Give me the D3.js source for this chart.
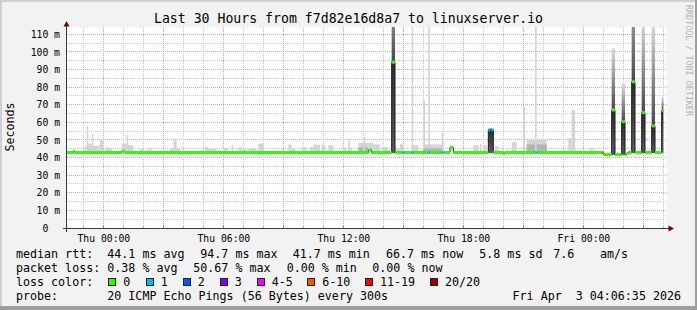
<!DOCTYPE html>
<html>
<head>
<meta charset="utf-8">
<script src="https://cdn.jsdelivr.net/npm/d3@7"></script>
<style>
  html, body { margin: 0; padding: 0; background: #f2f2f2; }
  svg { display: block; }
  text { font-family: "DejaVu Sans Mono", monospace; fill: #000; white-space: pre; }
</style>
</head>
<body>
<svg id="chart"></svg>
<script>
// ---------- data ----------
const title = "Last 30 Hours from f7d82e16d8a7 to linuxserver.io"
const yTitle = "Seconds"
const watermark = "RRDTOOL / TOBI OETIKER"
const timeStart = "04-01 22:10"
const timeEnd = "04-03 04:10"
const dataEnd = "04-03 04:00"
const yMax = 113.6
const yTicks = [0, 10, 20, 30, 40, 50, 60, 70, 80, 90, 100, 110]

const lossLabels = ["0", "1", "2", "3", "4-5", "6-10", "11-19", "20/20"]
const lossColors = ["#26ff00", "#00b8ff", "#0059ff", "#7e00ff", "#ff00ff", "#ff5500", "#ff0000", "#a10000"]

// median rtt (ms), valid from the given time until the next entry: [time, ms, loss bucket]
const medianSteps = [
  ["04-01 22:10", 42.9, 0], ["04-01 22:30", 43.6, 0], ["04-01 22:35", 42.9, 0],
  ["04-02 00:55", 43.6, 0], ["04-02 01:05", 42.9, 0],
  ["04-02 13:15", 44.3, 0], ["04-02 13:25", 42.9, 0],
  ["04-02 14:25", 94.2, 0], ["04-02 14:35", 42.9, 0],
  ["04-02 15:00", 42.9, 1], ["04-02 15:05", 42.9, 0],
  ["04-02 15:25", 42.9, 1], ["04-02 15:30", 42.9, 0],
  ["04-02 16:15", 42.9, 1], ["04-02 16:20", 42.9, 0],
  ["04-02 16:55", 42.9, 1], ["04-02 17:00", 42.9, 0],
  ["04-02 17:20", 45.8, 0], ["04-02 17:30", 42.9, 0],
  ["04-02 19:15", 55.7, 1], ["04-02 19:20", 55.7, 2], ["04-02 19:25", 55.7, 1], ["04-02 19:30", 42.9, 0],
  ["04-02 20:00", 42.3, 0], ["04-02 20:05", 42.9, 0],
  ["04-02 21:35", 42.9, 1], ["04-02 21:40", 42.9, 0],
  ["04-03 00:55", 42.9, 5], ["04-03 01:00", 41.7, 0],
  ["04-03 01:25", 67.0, 0], ["04-03 01:35", 41.7, 0],
  ["04-03 01:55", 60.4, 0], ["04-03 02:05", 41.7, 0], ["04-03 02:10", 42.4, 0], ["04-03 02:15", 42.9, 0],
  ["04-03 02:25", 83.0, 0], ["04-03 02:35", 42.9, 0],
  ["04-03 02:55", 65.5, 0], ["04-03 03:05", 42.9, 0],
  ["04-03 03:25", 58.0, 0], ["04-03 03:35", 42.9, 0],
  ["04-03 03:55", 66.7, 0]
]

// sparse ping smoke: [start, 5-min steps, highest ping ms, dense core top ms or null]
const lightSmoke = [
  ["04-01 23:05", 4, 46.6, null], ["04-01 23:10", 1, 58.0, null], ["04-01 23:15", 2, 48.0, null],
  ["04-01 23:25", 1, 53.4, null], ["04-01 23:25", 4, 46.6, null], ["04-01 23:45", 1, 47.0, null],
  ["04-01 23:50", 2, 49.8, null], ["04-02 00:05", 3, 45.7, null], ["04-02 00:20", 1, 45.3, null],
  ["04-02 00:55", 3, 47.9, null], ["04-02 01:10", 1, 53.0, null], ["04-02 01:10", 4, 47.0, null],
  ["04-02 01:50", 2, 45.0, null], ["04-02 02:15", 2, 45.0, null], ["04-02 03:20", 6, 45.0, null],
  ["04-02 03:30", 2, 49.8, null], ["04-02 05:05", 2, 46.0, null], ["04-02 05:10", 6, 45.2, null],
  ["04-02 06:00", 3, 45.5, null], ["04-02 06:25", 1, 47.0, null], ["04-02 06:45", 2, 46.0, null],
  ["04-02 06:55", 3, 45.0, null], ["04-02 07:15", 5, 45.2, null], ["04-02 07:45", 3, 47.9, null],
  ["04-02 08:55", 1, 45.0, null], ["04-02 09:15", 2, 47.4, null], ["04-02 09:25", 2, 45.0, null],
  ["04-02 09:55", 3, 46.0, null], ["04-02 10:20", 2, 46.0, null], ["04-02 10:30", 1, 47.4, null],
  ["04-02 10:35", 3, 47.4, null], ["04-02 10:55", 2, 47.4, null], ["04-02 11:15", 3, 47.0, null],
  ["04-02 12:00", 2, 45.7, null], ["04-02 12:15", 1, 49.7, null], ["04-02 12:20", 1, 45.7, null],
  ["04-02 12:45", 6, 48.5, 45.8], ["04-02 13:00", 1, 51.9, null], ["04-02 13:15", 3, 48.5, null],
  ["04-02 13:30", 4, 47.5, null], ["04-02 13:55", 4, 46.0, null], ["04-02 14:35", 3, 45.6, null],
  ["04-02 14:50", 2, 47.6, null], ["04-02 15:25", 1, 150, null], ["04-02 15:25", 4, 47.0, null],
  ["04-02 16:00", 1, 72.7, null], ["04-02 16:15", 1, 150, null], ["04-02 16:00", 12, 47.5, 45.2],
  ["04-02 16:55", 1, 54.0, null], ["04-02 18:30", 3, 47.0, null], ["04-02 18:50", 1, 47.9, null],
  ["04-02 19:00", 2, 47.0, null], ["04-02 19:35", 2, 46.5, null], ["04-02 20:25", 3, 48.8, null],
  ["04-02 21:00", 1, 69.0, null], ["04-02 21:10", 12, 50.0, 47.5], ["04-02 21:35", 1, 150, null],
  ["04-02 23:15", 2, 51.0, null], ["04-02 23:25", 2, 67.0, null], ["04-03 00:20", 2, 45.5, null]
]

// dense smoke around high-latency steps: [start, 5-min steps, lowest ping ms, highest ping ms]
const denseSmoke = [
  ["04-02 14:25", 2, 42.5, 150], ["04-02 19:15", 3, 42.5, 56.5],
  ["04-03 01:25", 2, 41.5, 102], ["04-03 01:55", 2, 41.5, 82],
  ["04-03 02:25", 2, 42.5, 150], ["04-03 02:55", 2, 42.5, 118],
  ["04-03 03:25", 2, 42.5, 116], ["04-03 03:55", 1, 42.5, 74.6]
]

const rttLabel = "median rtt:"
const rttStats = ["44.1 ms avg", "94.7 ms max", "41.7 ms min", "66.7 ms now", "5.8 ms sd", "7.6", "am/s"]
const lossLabel = "packet loss:"
const lossStats = ["0.38 % avg", "50.67 % max", "0.00 % min", "0.00 % now"]
const colorLabel = "loss color:"
const probeLabel = "probe:"
const probeText = "20 ICMP Echo Pings (56 Bytes) every 300s"
const stamp = "Fri Apr  3 04:06:35 2026"

// ---------- layout ----------
const W = 697, H = 310
const plot = { left: 67, right: 667, top: 27, bottom: 228 }
const rttX = [107.3, 200.3, 292.7, 386, 479.3, 553.3, 600]
const lossX = [107.3, 193.3, 286.7, 372.3]
const boxX = [108.3, 145.7, 182.7, 219.7, 256.7, 307.3, 365, 430]
const rowY = [258, 272, 286, 300]

const parse = s => d3.utcParse("%Y-%m-%d %H:%M")("2026-" + s)
const stepMs = 5 * 60 * 1000

const x = d3.scaleUtc().domain([parse(timeStart), parse(timeEnd)]).range([66.67, 666.67])
const y = d3.scaleLinear().domain([0, yMax]).range([228, 28])
const crisp = v => Math.floor(v) + 0.5

const svg = d3.select("#chart").attr("width", W).attr("height", H)

// background and frame
svg.append("rect").attr("width", W).attr("height", H).attr("fill", "#f2f2f2")
svg.append("rect").attr("width", W).attr("height", 2).attr("fill", "#cfcfcf")
svg.append("rect").attr("width", 2).attr("height", H).attr("fill", "#cfcfcf")
svg.append("rect").attr("x", W - 2).attr("width", 2).attr("height", H).attr("fill", "#9e9e9e")
svg.append("rect").attr("y", H - 4).attr("width", W).attr("height", 4).attr("fill", "#9e9e9e")

svg.append("rect")
  .attr("x", plot.left).attr("y", plot.top)
  .attr("width", plot.right - plot.left).attr("height", plot.bottom - plot.top)
  .attr("fill", "#fff")

const defs = svg.append("defs")
defs.append("clipPath").attr("id", "clip").append("rect")
  .attr("x", plot.left).attr("y", plot.top)
  .attr("width", plot.right - plot.left).attr("height", plot.bottom - plot.top)

const upperGrad = defs.append("linearGradient").attr("id", "upper").attr("x1", 0).attr("x2", 0).attr("y1", 0).attr("y2", 1)
upperGrad.append("stop").attr("offset", 0).attr("stop-color", "#dcdcdc")
upperGrad.append("stop").attr("offset", 1).attr("stop-color", "#484848")
const lowerGrad = defs.append("linearGradient").attr("id", "lower").attr("x1", 0).attr("x2", 0).attr("y1", 0).attr("y2", 1)
lowerGrad.append("stop").attr("offset", 0).attr("stop-color", "#2c2c2c")
lowerGrad.append("stop").attr("offset", 1).attr("stop-color", "#5c5c5c")

// grid
const grid = svg.append("g").attr("stroke-dasharray", "1,1").attr("stroke-width", 1)
const minorGray = "#c6c6c6", majorRed = "#e89a9a"
d3.range(5, yMax, 5).forEach(v => {
  grid.append("line")
    .attr("x1", plot.left).attr("x2", plot.right)
    .attr("y1", crisp(y(v))).attr("y2", crisp(y(v)))
    .attr("stroke", v % 10 === 0 ? majorRed : minorGray)
})
const hours = d3.utcHour.range(x.domain()[0], x.domain()[1])
hours.forEach(t => {
  const major = t.getUTCHours() % 3 === 0
  grid.append("line")
    .attr("x1", crisp(x(t))).attr("x2", crisp(x(t)))
    .attr("y1", plot.top).attr("y2", plot.bottom)
    .attr("stroke", major ? majorRed : minorGray)
})

// smoke
const data = svg.append("g").attr("clip-path", "url(#clip)")
const stepX = (s, n) => [x(parse(s)), x(new Date(+parse(s) + n * stepMs))]

lightSmoke.forEach(([s, n, top, core]) => {
  const [x0, x1] = stepX(s, n)
  data.append("rect").attr("x", x0).attr("width", x1 - x0)
    .attr("y", y(top)).attr("height", y(42.4) - y(top))
    .attr("fill", "#d4d4d4")
  if (core != null) {
    data.append("rect").attr("x", x0).attr("width", x1 - x0)
      .attr("y", y(core)).attr("height", y(42.4) - y(core))
      .attr("fill", "#b4b4b4")
  }
})

const medianAt = t => {
  let v = null
  medianSteps.forEach(([s, m]) => { if (+parse(s) <= +t) v = m })
  return v
}

denseSmoke.forEach(([s, n, lo, hi]) => {
  const [x0, x1] = stepX(s, n)
  const med = medianAt(parse(s))
  if (hi > med) {
    data.append("rect").attr("x", x0).attr("width", x1 - x0)
      .attr("y", y(hi)).attr("height", y(med) - y(hi))
      .attr("fill", "url(#upper)")
  }
  data.append("rect").attr("x", x0).attr("width", x1 - x0)
    .attr("y", y(med)).attr("height", y(lo) - y(med))
    .attr("fill", "url(#lower)")
})

// median line: dark step outline, then loss-coloured segments
const medPts = medianSteps.map(([s, m]) => [parse(s), m])
medPts.push([parse(dataEnd), medianSteps[medianSteps.length - 1][1]])
data.append("path")
  .attr("d", d3.line().x(d => x(d[0])).y(d => y(d[1])).curve(d3.curveStepAfter)(medPts))
  .attr("fill", "none").attr("stroke", "#1c1c1c").attr("stroke-width", 1)

medianSteps.forEach(([s, m, loss], i) => {
  const t1 = i + 1 < medianSteps.length ? parse(medianSteps[i + 1][0]) : parse(dataEnd)
  data.append("line")
    .attr("x1", x(parse(s))).attr("x2", x(t1))
    .attr("y1", y(m)).attr("y2", y(m))
    .attr("stroke", lossColors[loss]).attr("stroke-width", 3)
})

// axes
const axisColor = "#3a3a3a"
const labelHours = d3.utcHour.every(6).range(x.domain()[0], x.domain()[1])
const xAxis = svg.append("g").attr("transform", `translate(0,${plot.bottom})`)
  .call(d3.axisBottom(x).tickValues(labelHours).tickSize(0).tickPadding(7)
    .tickFormat(d3.utcFormat("%a %H:%M")))
xAxis.select(".domain").remove()
xAxis.selectAll("text").style("font-size", "9.75px").attr("fill", "#000")

const yAxis = svg.append("g").attr("transform", `translate(${plot.left},0)`)
  .call(d3.axisLeft(y).tickValues(yTicks).tickSize(0).tickPadding(7)
    .tickFormat(v => v === 0 ? "0  " : v + " m"))
yAxis.select(".domain").remove()
yAxis.selectAll("text").style("font-size", "9.75px").attr("fill", "#000")

// x-axis ticks
hours.forEach(t => {
  const major = t.getUTCHours() % 3 === 0
  svg.append("line")
    .attr("x1", crisp(x(t))).attr("x2", crisp(x(t)))
    .attr("y1", major ? 225 : 226).attr("y2", 228)
    .attr("stroke", major ? "#e06a6a" : "#b0b0b0")
})

svg.append("line").attr("x1", 63).attr("x2", 670).attr("y1", 228.5).attr("y2", 228.5)
  .attr("stroke", axisColor)
svg.append("line").attr("x1", 66.5).attr("x2", 66.5).attr("y1", 24).attr("y2", 232)
  .attr("stroke", axisColor)
svg.append("path").attr("d", "M66.5,21 L69.5,26.5 L63.5,26.5 Z").attr("fill", "#7f0000")
svg.append("path").attr("d", "M674,228.5 L668.5,225.5 L668.5,231.5 Z").attr("fill", "#7f0000")

// titles
svg.append("text").attr("x", W / 2).attr("y", 23).attr("text-anchor", "middle")
  .style("font-size", "13.2px").text(title)
svg.append("text").attr("transform", "translate(14,127) rotate(-90)").attr("text-anchor", "middle")
  .style("font-size", "11.67px").text(yTitle)
svg.append("text").attr("transform", "translate(686,5) rotate(90)")
  .style("font-size", "8.4px").style("fill", "#b4b4b4").text(watermark)

// legend
const legend = svg.append("g").style("font-size", "11.67px")
legend.append("text").attr("x", 16).attr("y", rowY[0]).text(rttLabel)
rttStats.forEach((s, i) => legend.append("text").attr("x", rttX[i]).attr("y", rowY[0]).text(s))
legend.append("text").attr("x", 16).attr("y", rowY[1]).text(lossLabel)
lossStats.forEach((s, i) => legend.append("text").attr("x", lossX[i]).attr("y", rowY[1]).text(s))
legend.append("text").attr("x", 16).attr("y", rowY[2]).text(colorLabel)
lossLabels.forEach((s, i) => {
  legend.append("rect").attr("x", Math.round(boxX[i]) + 0.5).attr("y", 278.5)
    .attr("width", 7).attr("height", 7)
    .attr("fill", lossColors[i]).attr("stroke", "#222")
  legend.append("text").attr("x", boxX[i] + 15).attr("y", rowY[2]).text(s)
})
legend.append("text").attr("x", 16).attr("y", rowY[3]).text(probeLabel)
legend.append("text").attr("x", 107.3).attr("y", rowY[3]).text(probeText)
legend.append("text").attr("x", 681).attr("y", rowY[3]).attr("text-anchor", "end").text(stamp)
</script>
</body>
</html>
